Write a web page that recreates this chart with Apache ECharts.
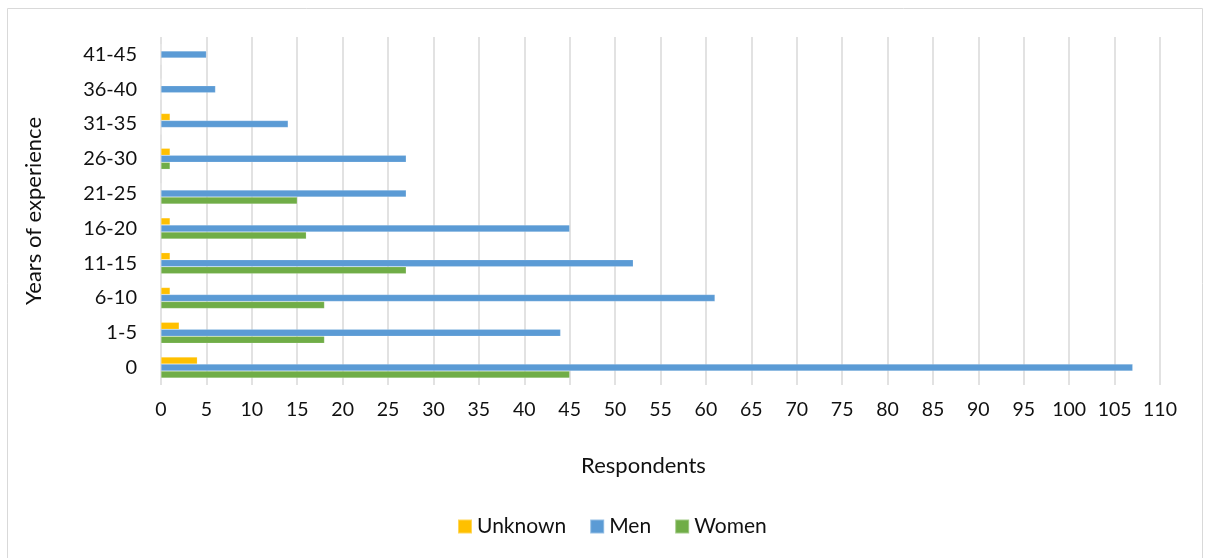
<!DOCTYPE html>
<html lang="en">
<head>
    <meta charset="UTF-8">
    <title>Years of experience</title>
    <script src="https://cdn.jsdelivr.net/npm/echarts@6/dist/echarts.min.js"></script>
    <style>
        html, body { margin: 0; padding: 0; background: #fff; }
        #chart { width: 1205px; height: 558px; }
    </style>
</head>
<body>
<div id="chart"></div>
<script type="text/javascript">
    // categories, bottom to top
    var years = ['0', '1-5', '6-10', '11-15', '16-20', '21-25', '26-30', '31-35', '36-40', '41-45'];
    var unknown = [4, 2, 1, 1, 1, 0, 1, 1, 0, 0];
    var men = [107, 44, 61, 52, 45, 27, 27, 14, 6, 5];
    var women = [45, 18, 18, 27, 16, 15, 1, 0, 0, 0];

    var font = 'Lato, "Open Sans", sans-serif';
    var myChart = echarts.init(document.getElementById('chart'));

    function bar(name, data, color) {
        return {
            name: name,
            type: 'bar',
            data: data,
            barWidth: 7,
            barGap: '0%',
            itemStyle: { color: color, borderColor: 'rgba(255,255,255,0.35)', borderWidth: 0.5 }
        };
    }

    var option = {
        animation: false,
        textStyle: { fontFamily: font },
        graphic: [{
            type: 'rect',
            shape: { x: 7.5, y: 8.5, width: 1195, height: 560 },
            style: { fill: 'none', stroke: '#d9d9d9', lineWidth: 1 }
        }],
        grid: { left: 161, right: 45, top: 37, bottom: 173 },
        legend: {
            data: ['Unknown', 'Men', 'Women'],
            left: 452,
            top: 511,
            itemWidth: 14,
            itemHeight: 14,
            itemGap: 23,
            icon: 'rect',
            textStyle: { fontSize: 21, color: '#111', fontFamily: font }
        },
        xAxis: {
            type: 'value',
            min: 0,
            max: 110,
            interval: 5,
            name: 'Respondents',
            nameLocation: 'middle',
            nameGap: 70,
            nameTextStyle: { fontSize: 22, color: '#111', padding: [0, 34, 0, 0] },
            axisLine: { show: false },
            axisTick: { show: false },
            axisLabel: { fontSize: 19.5, color: '#111', margin: 15 },
            splitLine: { lineStyle: { color: '#d9d9d9', width: 1.5 } }
        },
        yAxis: {
            type: 'category',
            data: years,
            name: 'Years of experience',
            nameLocation: 'middle',
            nameGap: 116,
            nameTextStyle: { fontSize: 22, color: '#111' },
            axisLine: { show: false },
            axisTick: { show: false },
            axisLabel: { fontSize: 20, color: '#111', margin: 24 }
        },
        series: [
            bar('Unknown', unknown, '#ffc000'),
            bar('Men', men, '#5b9bd5'),
            bar('Women', women, '#70ad47')
        ]
    };
    myChart.setOption(option);
</script>
</body>
</html>
